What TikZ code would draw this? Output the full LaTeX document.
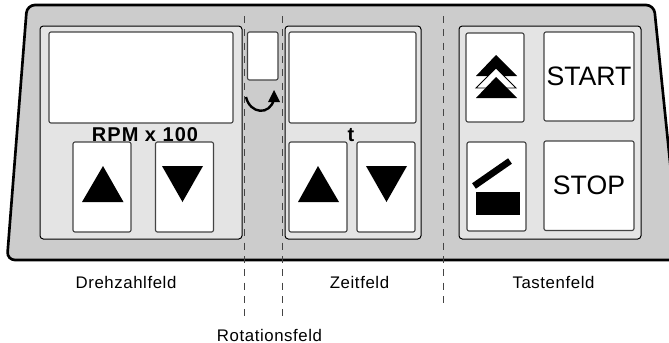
\documentclass[tikz,border=0pt]{standalone}
\usepackage{fontspec}
\setmainfont{Liberation Sans}
\newfontfamily\spacedfont[LetterSpace=3.5]{Liberation Sans}
\newfontfamily\spacedbold[LetterSpace=5]{Liberation Sans Bold}
\definecolor{bodygray}{HTML}{CCCCCC}
\definecolor{panelgray}{HTML}{E4E4E4}
\definecolor{edgegray}{HTML}{444444}
\tikzset{
  panel/.style 2 args={draw=black, line width=0.75pt, fill=panelgray, rounded corners=2.5pt, inner sep=0pt, minimum width=#1*0.75pt, minimum height=#2*0.75pt},
  field/.style 2 args={draw=edgegray, line width=0.85pt, fill=white, rounded corners=1.5pt, inner sep=0pt, minimum width=#1*0.75pt, minimum height=#2*0.75pt},
  divider/.style={edgegray, line width=0.75pt, dash pattern=on 5.2pt off 4.8pt},
  caption/.style={font=\spacedfont\fontsize{12.6}{15}\selectfont, anchor=base},
  keytext/.style={font=\fontsize{20}{24}\selectfont},
  headtext/.style={font=\spacedbold\fontsize{15}{18}\selectfont, anchor=base},
}
\begin{document}
\begin{tikzpicture}[x=0.75pt, y=-0.75pt]
  \useasboundingbox (0,0) rectangle (669,343);
  \clip (0,0) rectangle (669,343);
  % housing
  \draw[fill=bodygray, line width=2pt, rounded corners=6pt] (27,5) -- (7,260) -- (680,260) -- (654,5) -- cycle;

  % the three fields
  \node[panel={202}{213}] (drehzahlfeld) at (141,132.5) {};
  \node[panel={136}{213}] (zeitfeld) at (353,132.5) {};
  \node[panel={182}{213}] (tastenfeld) at (550,132.5) {};

  \node[field={184}{91}] (rpmanzeige) at (141,77.5) {};
  \node[field={30.5}{48}] (rotanzeige) at (262.75,56) {};
  \node[field={127}{91}] (zeitanzeige) at (352.5,77.5) {};

  \node[field={58}{90}] (rpmauf) at (102,187) {};
  \node[field={58}{90}] (rpmab) at (184.5,187) {};
  \node[field={58}{90}] (zeitauf) at (318,187) {};
  \node[field={58}{90}] (zeitab) at (386,187) {};
  \node[field={58}{89}] (schnell) at (495,77.5) {};
  \node[field={59}{89}] (klappe) at (496.5,186.5) {};
  \node[field={90}{89}, keytext] (start) at (589,76.5) {START};
  \node[field={90}{89.5}, keytext] (stop) at (589,185.75) {STOP};

  % arrows on the keys
  \fill (103,166) -- (123.5,202) -- (82,202) -- cycle;
  \fill (162,166) -- (203,166) -- (182.5,202) -- cycle;
  \fill (318,166) -- (339,202) -- (298,202) -- cycle;
  \fill (366,166) -- (407,166) -- (386.5,202) -- cycle;
  \fill (496,55) -- (517,76) -- (476,76) -- cycle;
  \draw[fill=white, line width=0.7pt] (496,68) -- (516,88) -- (476,88) -- cycle;
  \fill (496,77) -- (517,98) -- (476,98) -- cycle;
  \draw[line width=5pt] (474,186) -- (510,161);
  \fill (476,192) rectangle (520,215);

  % rotation arrow
  \draw[line width=1.8pt] (246,97) .. controls (250,114) and (270,116) .. (274,99);
  \fill (274,90) -- (280,102) -- (268,102) -- cycle;

  % dividers
  \coordinate (rechtsA) at (244.5,16);
  \coordinate (rechtsB) at (244.5,320);
  \coordinate (linksA) at (282.5,16);
  \coordinate (linksB) at (282.5,320);
  \coordinate (tasteA) at (443,16);
  \coordinate (tasteB) at (443,306);
  \draw[divider] (rechtsA) -- (rechtsB);
  \draw[divider] (linksA) -- (linksB);
  \draw[divider] (tasteA) -- (tasteB);

  % labels
  \node[headtext] (rpmlabel) at (145,141) {RPM x 100};
  \node[headtext] (zeitlabel) at (351,141) {t};
  \node[caption] (drehzahllabel) at (126,288) {Drehzahlfeld};
  \node[caption] (zeitfeldlabel) at (359.5,288) {Zeitfeld};
  \node[caption] (tastenlabel) at (553.5,288) {Tastenfeld};
  \node[caption] (rotlabel) at (269.5,341) {Rotationsfeld};
\end{tikzpicture}
\end{document}
